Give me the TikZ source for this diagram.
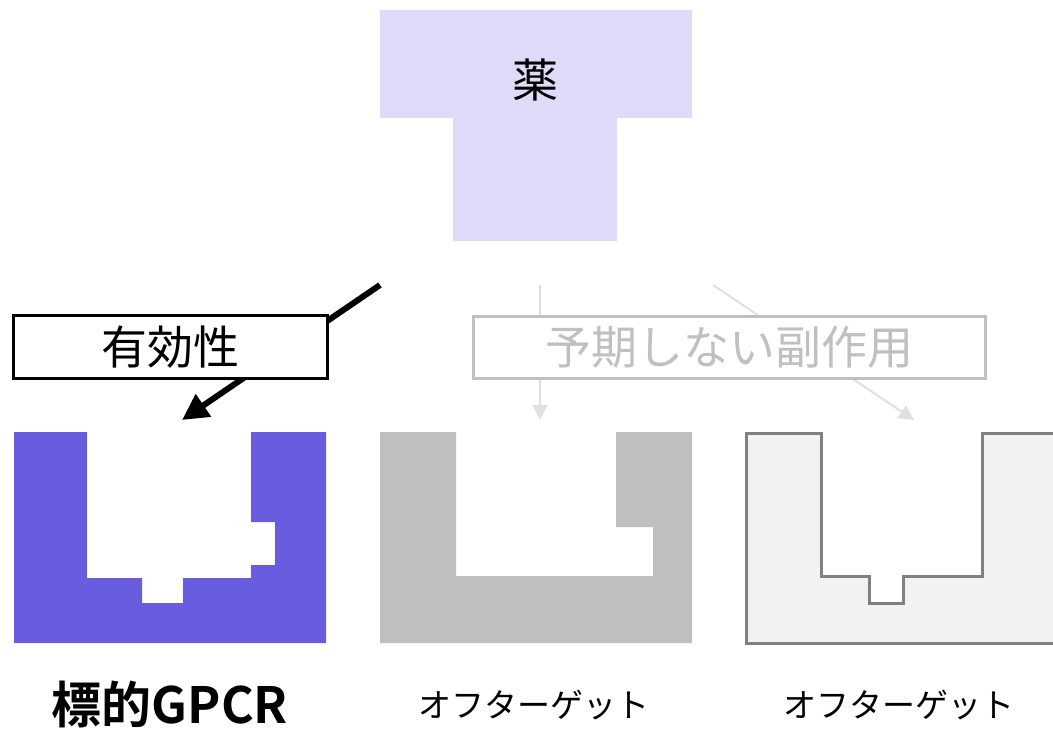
\documentclass[tikz,border=0pt]{standalone}
\usepackage{fontspec}
\setmainfont{Noto Sans CJK JP}
\newfontfamily\jpbold{Noto Sans CJK JP Bold}
\usetikzlibrary{arrows.meta}
\definecolor{lav}{RGB}{222,218,248}
\definecolor{purp}{RGB}{106,92,222}
\definecolor{gshape}{RGB}{191,191,191}
\definecolor{gfill}{RGB}{242,242,242}
\definecolor{gline}{RGB}{128,128,128}
\definecolor{garrow}{RGB}{224,224,224}
\definecolor{gbox}{RGB}{192,192,192}
\tikzset{
  labelbox/.style={draw, line width=3pt, fill=white, minimum width=314pt, minimum height=62pt, inner sep=0pt, font=\fontsize{46}{46}\selectfont},
  fadedbox/.style={labelbox, draw=gbox, text=gbox, minimum width=512pt},
  mainarrow/.style={line width=6pt, -{Triangle[length=26pt,width=26pt]}},
  fadedarrow/.style={draw=garrow, line width=2pt, -{Triangle[length=15pt,width=15pt]}},
  caption/.style={font=\fontsize{33}{33}\selectfont, inner sep=0pt},
  bigcaption/.style={font=\jpbold\fontsize{50}{50}\selectfont, inner sep=0pt}
}
\begin{document}
\begin{tikzpicture}[x=1pt,y=-1pt]
\useasboundingbox (0,0) rectangle (1053,730);
% drug
\fill[lav] (380,10) -- (692,10) -- (692,118) -- (617,118) -- (617,241) -- (453,241) -- (453,118) -- (380,118) -- cycle;
\node[font=\fontsize{46}{46}\selectfont, inner sep=0pt] (drug) at (535,80) {薬};
% receptors
\fill[purp] (14,432) -- (87,432) -- (87,578) -- (142,578) -- (142,603) -- (183,603) -- (183,578) -- (251,578) -- (251,565) -- (275,565) -- (275,522) -- (251,522) -- (251,432) -- (326,432) -- (326,643) -- (14,643) -- cycle;
\fill[gshape] (380,432) -- (456,432) -- (456,576) -- (653,576) -- (653,527) -- (616,527) -- (616,432) -- (692,432) -- (692,643) -- (380,643) -- cycle;
\filldraw[fill=gfill, draw=gline, line width=3pt] (746,433) -- (821,433) -- (821,576) -- (869,576) -- (869,603) -- (903,603) -- (903,576) -- (982,576) -- (982,433) -- (1060,433) -- (1060,643) -- (746,643) -- cycle;
% arrows
\coordinate (a1s) at (380,285);
\coordinate (a1e) at (182,420);
\coordinate (a2s) at (540,285);
\coordinate (a2e) at (540,420);
\coordinate (a3s) at (713,285);
\coordinate (a3e) at (914,420);
\draw[mainarrow] (a1s) -- (a1e);
\draw[fadedarrow] (a2s) -- (a2e);
\draw[fadedarrow] (a3s) -- (a3e);
% labels
\node[labelbox] (eff) at (170,347) {有効性};
\node[fadedbox] (side) at (729,347.5) {予期しない副作用};
\node[bigcaption] (target) at (170,704) {標的GPCR};
\node[caption] (off1) at (534,705) {オフターゲット};
\node[caption] (off2) at (899,705) {オフターゲット};
\end{tikzpicture}
\end{document}
